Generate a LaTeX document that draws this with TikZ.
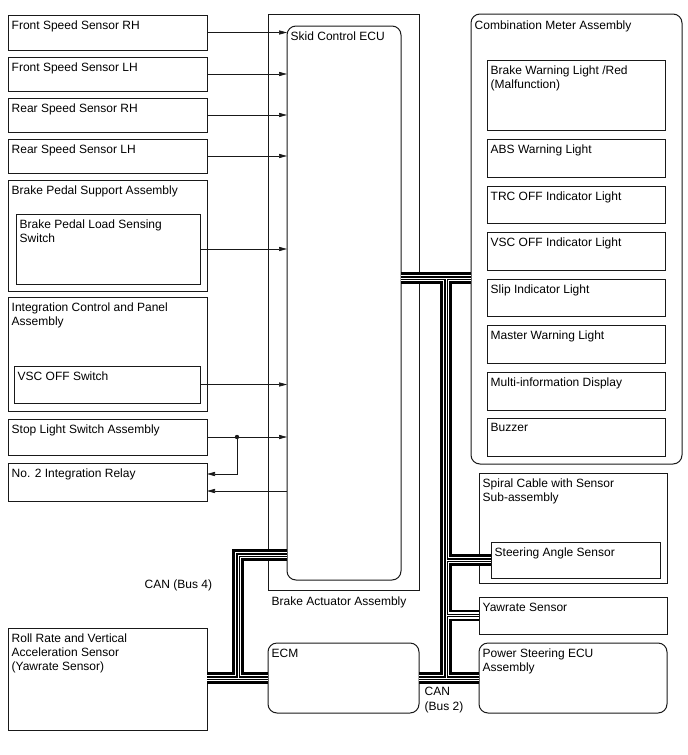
\documentclass[tikz,border=0pt]{standalone}
\usepackage{fontspec}
\setmainfont{Liberation Sans}
\usetikzlibrary{arrows.meta}

\begin{document}
\begin{tikzpicture}[x=1pt, y=-1pt,
    box/.style={draw=black!90, line width=1pt, anchor=north west, inner sep=0pt, outer sep=0pt},
    rbox/.style={box, rounded corners=9pt},
    lbl/.style={anchor=north west, inner sep=3.5pt, yshift=-2pt, align=left, font=\fontsize{12}{14}\selectfont},
    txt/.style={inner sep=3.5pt, align=left, font=\fontsize{12}{15}\selectfont},
    sig/.style={draw=black!90, line width=0.7pt, ->},
    >={Triangle[length=8pt, width=4.2pt]}]
    \useasboundingbox (0,0) rectangle (688,755);

    % inputs on the left
    \node[box, minimum width=199, minimum height=35, label={[lbl]north west:Front Speed Sensor RH}] (fsrh) at (8,15) {};
    \node[box, minimum width=199, minimum height=34, label={[lbl]north west:Front Speed Sensor LH}] (fslh) at (8,57) {};
    \node[box, minimum width=199, minimum height=34, label={[lbl]north west:Rear Speed Sensor RH}] (rsrh) at (8,98) {};
    \node[box, minimum width=199, minimum height=34, label={[lbl]north west:Rear Speed Sensor LH}] (rslh) at (8,139) {};
    \node[box, minimum width=199, minimum height=111, label={[lbl]north west:Brake Pedal Support Assembly}] (bpsa) at (8,180) {};
    \node[box, minimum width=184, minimum height=70, label={[lbl]north west:{Brake Pedal Load Sensing\\Switch}}] (bpls) at (16,214) {};
    \node[box, minimum width=199, minimum height=114, label={[lbl]north west:{Integration Control and Panel\\Assembly}}] (icpa) at (8,297) {};
    \node[box, minimum width=186, minimum height=37, label={[lbl]north west:VSC OFF Switch}] (vscsw) at (14,366) {};
    \node[box, minimum width=199, minimum height=36, label={[lbl]north west:Stop Light Switch Assembly}] (slsa) at (8,419) {};
    \node[box, minimum width=199, minimum height=38, label={[lbl]north west:No. 2 Integration Relay}] (relay) at (8,463) {};
    \node[box, minimum width=199, minimum height=102, label={[lbl]north west:{Roll Rate and Vertical\\Acceleration Sensor\\(Yawrate Sensor)}}] (rr) at (8,628) {};

    % actuator and ECM
    \node[box, minimum width=151, minimum height=576, label={[lbl, yshift=-1pt]south west:Brake Actuator Assembly}] (baa) at (268,14) {};
    \node[rbox, minimum width=114, minimum height=554, label={[lbl]north west:Skid Control ECU}] (ecu) at (287,26) {};
    \node[rbox, minimum width=151, minimum height=70, label={[lbl]north west:ECM}] (ecm) at (268,643) {};

    % combination meter
    \node[rbox, minimum width=211, minimum height=450, label={[lbl, yshift=-1pt]north west:Combination Meter Assembly}] (cma) at (471,14) {};
    \node[box, minimum width=178, minimum height=70, label={[lbl]north west:{Brake Warning Light /Red\\(Malfunction)}}] (bwl) at (487,60) {};
    \node[box, minimum width=178, minimum height=38, label={[lbl]north west:ABS Warning Light}] (abs) at (487,139) {};
    \node[box, minimum width=178, minimum height=37, label={[lbl]north west:TRC OFF Indicator Light}] (trc) at (487,186) {};
    \node[box, minimum width=178, minimum height=38, label={[lbl]north west:VSC OFF Indicator Light}] (vscl) at (487,232) {};
    \node[box, minimum width=178, minimum height=37, label={[lbl]north west:Slip Indicator Light}] (slip) at (487,279) {};
    \node[box, minimum width=178, minimum height=38, label={[lbl]north west:Master Warning Light}] (mwl) at (487,325) {};
    \node[box, minimum width=178, minimum height=38, label={[lbl]north west:Multi-information Display}] (mid) at (487,372) {};
    \node[box, minimum width=178, minimum height=38, label={[lbl]north west:Buzzer}] (buz) at (487,418) {};

    % other CAN units
    \node[box, minimum width=188, minimum height=110, label={[lbl]north west:{Spiral Cable with Sensor\\Sub-assembly}}] (spc) at (479,473) {};
    \node[box, minimum width=169, minimum height=36, label={[lbl]north west:Steering Angle Sensor}] (sas) at (491,542) {};
    \node[box, minimum width=188, minimum height=37, label={[lbl]north west:Yawrate Sensor}] (yaw) at (479,597) {};
    \node[rbox, minimum width=188, minimum height=70, label={[lbl]north west:{Power Steering ECU\\Assembly}}] (pse) at (479,643) {};

    \node[txt, anchor=west] (can4) at (141,585) {CAN (Bus 4)};
    \node[txt, anchor=north west] (can2) at (421,683) {CAN\\(Bus 2)};

    % signal lines
    \draw[sig] (fsrh.east) -- (fsrh.east -| ecu.west);
    \draw[sig] (fslh.east) -- (fslh.east -| ecu.west);
    \draw[sig] (rsrh.east) -- (rsrh.east -| ecu.west);
    \draw[sig] (rslh.east) -- (rslh.east -| ecu.west);
    \draw[sig] (bpls.east) -- (bpls.east -| ecu.west);
    \draw[sig] (vscsw.east) -- (vscsw.east -| ecu.west);
    \draw[sig] (slsa.east) -- (slsa.east -| ecu.west);
    \coordinate (jn) at ([xshift=30pt]slsa.east);
    \fill[black!90] (jn) circle (2.2pt);
    \draw[sig] (jn) |- ([yshift=8pt]relay.east);
    \coordinate (rl) at ([yshift=-9pt]relay.east);
    \draw[sig] (rl -| ecu.west) -- (rl);

    % CAN buses
    \coordinate (b2) at (446,278);
    \coordinate (b4) at (238,555);
    \foreach \w/\c in {11.5/black, 6.5/white, 3.2/black, 1/white} {
        \draw[line width=\w pt, color=\c] (ecu.east |- b2) -- (cma.west |- b2)
            (b2) -- (b2 |- pse.west)
            (b2 |- sas.west) -- (sas.west)
            (b2 |- yaw.west) -- (yaw.west)
            (ecm.east) -- (pse.west)
            (ecu.west |- b4) -- (b4) -- (b4 |- ecm.west)
            (rr.east |- ecm.west) -- (ecm.west);
    }
\end{tikzpicture}
\end{document}
